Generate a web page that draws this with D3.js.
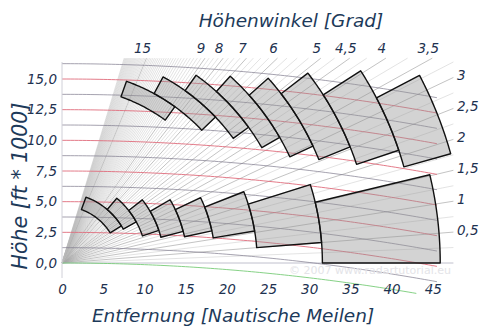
<!DOCTYPE html>
<html>
<head>
<meta charset="utf-8">
<title>Höhenwinkel</title>
<script src="https://cdn.jsdelivr.net/npm/d3@7"></script>
<style>
  body { margin: 0; background: #fff; }
  text { font-family: "DejaVu Sans", Verdana, sans-serif; font-style: italic; fill: #1e3250; }
</style>
</head>
<body>
<svg></svg>
<script>
const WIDTH = 500;
const HEIGHT = 331;
const FT_PER_NM = 6076;

// axis ticks
const xTicks = [0, 5, 10, 15, 20, 25, 30, 35, 40, 45];
const yTicks = [0, 2.5, 5, 7.5, 10, 12.5, 15];

// lines of constant height (ft * 1000)
const redHeights = [2.5, 5, 7.5, 10, 12.5, 15];
const darkHeights = [1.25, 3.75, 6.25, 8.75, 11.25, 13.75, 16.25];
const earthDrop = 0.00134; // drawn drop in ft*1000 per NM^2

// elevation angles (Grad)
const rightAngles = [0.5, 1, 1.5, 2, 2.5, 3];
const topAngles = [3.5, 4, 4.5, 5, 6, 7, 8, 9, 15];
const fineStep = 0.25;
const fineMax = 20;

// beam cells, range limits in NM, elevation limits in Grad
const lowerRanges = [6.9, 8.5, 10.3, 12.4, 15.2, 18.6, 23.7, 31.6, 45.9];
const lowerBottom = [3.95, 3.5, 2.13, 1.65, 1.36, 1.05, 0.5, 0];
const lowerTop = [16.9, 7.45, 4.97, 3.7, 2.98, 2.48, 2.0, 1.52];

const upperRanges = [21.4, 23.4, 25.7, 28.0, 30.5, 33.6, 37.7, 43.1, 49.0];
const upperBottom = [8.7, 6.0, 4.6, 3.65, 2.95, 2.55, 2.12, 1.78];
const upperTop = [17.3, 11.5, 8.8, 7.0, 5.66, 4.88, 4.07, 3.32];

const de = d3.formatLocale({decimal: ",", thousands: ".", grouping: [3], currency: ["", " €"]});
const fmtTick = de.format(".1f");
const fmtAngle = de.format("~g");

var svg = d3.select("svg")
    .attr("width", WIDTH)
    .attr("height", HEIGHT);

var x = d3.scaleLinear().domain([0, 45]).range([62, 432.8]);
var y = d3.scaleLinear().domain([0, 15]).range([263, 79]);
var pxPerNm = x(1) - x(0);

// screen direction of a ray with given elevation
function dir(deg) {
    var dx = x(1) - x(0);
    var dy = y(0) - y(FT_PER_NM / 1000 * Math.tan(deg * Math.PI / 180));
    var len = Math.hypot(dx, dy);
    return [dx / len, dy / len];
}
function polar(r, deg) {
    var u = dir(deg);
    return [x(0) + r * pxPerNm * u[0], y(0) - r * pxPerNm * u[1]];
}
function rayEnd(deg) {
    var u = dir(deg);
    var tx = (x(47.5) - x(0)) / u[0];
    var ty = u[1] > 0 ? (y(0) - y(16.7)) / u[1] : Infinity;
    var t = Math.min(tx, ty);
    return [x(0) + t * u[0], y(0) - t * u[1]];
}

// fan of elevation rays
var fine = d3.range(fineStep, fineMax + 0.001, fineStep);
var labelled = d => rightAngles.includes(d) || topAngles.includes(d);
svg.append("g")
    .selectAll("line")
    .data(fine)
    .enter()
    .append("line")
    .attr("x1", x(0)).attr("y1", y(0))
    .attr("x2", d => rayEnd(d)[0])
    .attr("y2", d => rayEnd(d)[1])
    .attr("stroke", d => labelled(d) ? "#9a9a9a" : "#b8b8b8")
    .attr("stroke-width", d => labelled(d) ? 0.6 : 0.4);

// zero elevation
svg.append("line")
    .attr("x1", x(0)).attr("y1", y(0))
    .attr("x2", x(47.5)).attr("y2", y(0))
    .attr("stroke", "#b0b0c0")
    .attr("stroke-width", 0.8);

// curves of constant height
var heightLine = d3.line();
function heightCurve(h, dMax) {
    return heightLine(d3.range(0, dMax + 0.01, 0.5).map(d => [x(d), y(h - earthDrop * d * d)]));
}
svg.append("g")
    .selectAll("path")
    .data(darkHeights)
    .enter()
    .append("path")
    .attr("d", h => heightCurve(h, 45.5))
    .attr("fill", "none")
    .attr("stroke", "#7e7a8c")
    .attr("stroke-width", 0.7);
svg.append("g")
    .selectAll("path")
    .data(redHeights)
    .enter()
    .append("path")
    .attr("d", h => heightCurve(h, 45.5))
    .attr("fill", "none")
    .attr("stroke", "#e06c7c")
    .attr("stroke-width", 0.9);
svg.append("path")
    .attr("d", heightCurve(0, 43))
    .attr("fill", "none")
    .attr("stroke", "#78cc78")
    .attr("stroke-width", 0.9);

// beam cells
function cellPath(r0, r1, a0, a1) {
    var n = 30, pts = [];
    for (var i = 0; i <= n; i++) pts.push(polar(r1, a1 + (a0 - a1) * i / n));
    for (var j = 0; j <= n; j++) pts.push(polar(r0, a0 + (a1 - a0) * j / n));
    return d3.line()(pts) + "Z";
}
function cells(ranges, bottom, top) {
    return bottom.map((b, i) => ({r0: ranges[i], r1: ranges[i + 1], a0: b, a1: top[i]}));
}
svg.append("g")
    .selectAll("path")
    .data(cells(lowerRanges, lowerBottom, lowerTop).concat(cells(upperRanges, upperBottom, upperTop)))
    .enter()
    .append("path")
    .attr("d", c => cellPath(c.r0, c.r1, c.a0, c.a1))
    .attr("fill", "rgba(150,150,150,0.42)")
    .attr("stroke", "#111")
    .attr("stroke-width", 1.4)
    .attr("stroke-linejoin", "round");

// angle labels
svg.append("g")
    .selectAll("text")
    .data(topAngles)
    .enter()
    .append("text")
    .attr("x", d => rayEnd(d)[0] - 4)
    .attr("y", 53)
    .attr("text-anchor", "middle")
    .style("font-size", "13.5px")
    .text(d => fmtAngle(d));
svg.append("g")
    .selectAll("text")
    .data(rightAngles)
    .enter()
    .append("text")
    .attr("x", 457)
    .attr("y", d => rayEnd(d)[1] - 2)
    .attr("dy", "0.35em")
    .style("font-size", "13.5px")
    .text(d => fmtAngle(d));

// axes
svg.append("line")
    .attr("x1", x(0)).attr("x2", x(0))
    .attr("y1", 62).attr("y2", 278)
    .attr("stroke", "#d0d0d8");

svg.append("g")
    .attr("transform", "translate(" + x(0) + ",0)")
    .call(d3.axisLeft(y).tickValues(yTicks).tickFormat(fmtTick).tickSize(0).tickPadding(5));
svg.append("g")
    .attr("transform", "translate(0,279)")
    .call(d3.axisBottom(x).tickValues(xTicks).tickFormat(d3.format("d")).tickSize(0).tickPadding(5));
svg.selectAll(".domain").remove();
svg.selectAll(".tick text")
    .style("font-size", "13.5px")
    .style("font-family", "'DejaVu Sans', Verdana, sans-serif")
    .attr("fill", "#1e3250");

// watermark
svg.append("text")
    .attr("x", 370).attr("y", 274)
    .attr("text-anchor", "middle")
    .style("font-size", "11px")
    .style("font-style", "normal")
    .style("fill", "#e4e4e8")
    .text("© 2007 www.radartutorial.eu");

// titles
svg.append("text")
    .attr("x", 291).attr("y", 27)
    .attr("text-anchor", "middle")
    .style("font-size", "18.5px")
    .style("fill", "#1d3a5a")
    .text("Höhenwinkel [Grad]");
svg.append("text")
    .attr("x", 233).attr("y", 322)
    .attr("text-anchor", "middle")
    .style("font-size", "18.5px")
    .style("fill", "#1d3a5a")
    .text("Entfernung [Nautische Meilen]");
svg.append("text")
    .attr("transform", "translate(27,186) rotate(-90)")
    .attr("text-anchor", "middle")
    .style("font-size", "20.5px")
    .style("fill", "#1d3a5a")
    .text("Höhe [ft * 1000]");
</script>
</body>
</html>
